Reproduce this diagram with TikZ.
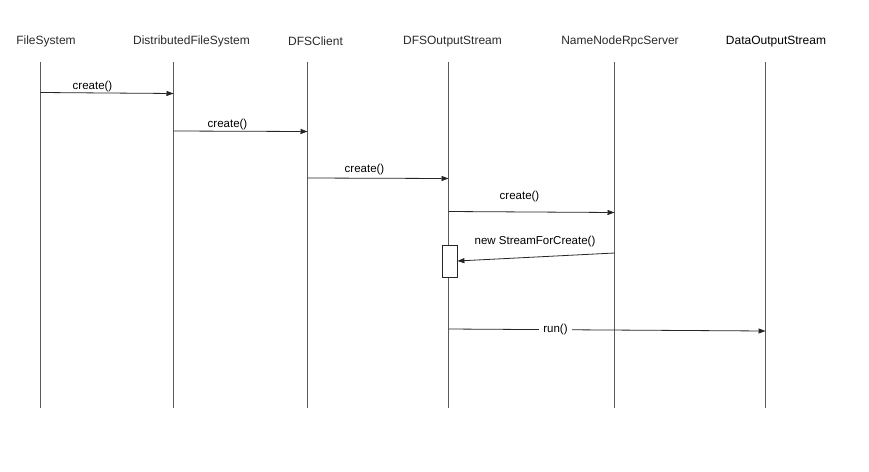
\documentclass[tikz,border=0pt]{standalone}
\usepackage{fontspec}
\setmainfont{Liberation Sans}
\usetikzlibrary{arrows.meta}
\definecolor{lifegray}{HTML}{5A5A5A}
\definecolor{headtext}{HTML}{2A2A2A}
\begin{document}
\begin{tikzpicture}[x=1pt,y=-1pt,
  header/.style={inner sep=0pt,font=\fontsize{12}{14}\selectfont,text=headtext},
  lifeline/.style={draw=lifegray,line width=1.2pt},
  msg/.style={draw=black!85,line width=0.8pt,-{Triangle[length=7pt,width=5pt]}},
  msglabel/.style={inner sep=0pt,font=\fontsize{11.5}{13}\selectfont,text=black},
  actbox/.style={draw=black!85,fill=white,line width=0.8pt,minimum width=15pt,minimum height=32pt,inner sep=0pt}]
  % page frame
  \path[fill=white] (0,0) rectangle (869,471);
  \useasboundingbox (0,0) rectangle (869,471);

  % participant names
  \node[header] (hFS)   at (46,41.5)  {FileSystem};
  \node[header] (hDFS)  at (191.5,41.5) {DistributedFileSystem};
  \node[header] (hCli)  at (315.5,41) {DFSClient};
  \node[header] (hOut)  at (452.5,41.5) {DFSOutputStream};
  \node[header] (hNN)   at (620,41.5) {NameNodeRpcServer};
  \node[header,text=black] (hData) at (776,41.5) {DataOutputStream};

  % lifeline ends
  \coordinate (fsT)   at (40.5,62);  \coordinate (fsB)   at (40.5,408);
  \coordinate (dfsT)  at (173.5,62); \coordinate (dfsB)  at (173.5,408);
  \coordinate (cliT)  at (307.5,62); \coordinate (cliB)  at (307.5,408);
  \coordinate (outT)  at (448.5,62); \coordinate (outB)  at (448.5,408);
  \coordinate (nnT)   at (614.5,62); \coordinate (nnB)   at (614.5,408);
  \coordinate (dataT) at (765.5,62); \coordinate (dataB) at (765.5,408);

  \foreach \a/\b in {fsT/fsB,dfsT/dfsB,cliT/cliB,outT/outB,nnT/nnB,dataT/dataB}
    \draw[lifeline] (\a) -- (\b);

  % message end points on the lifelines
  \coordinate (m1a) at (40.5,92.5);  \coordinate (m1b) at (173.5,93.5);
  \coordinate (m2a) at (173.5,131);  \coordinate (m2b) at (307.5,131.5);
  \coordinate (m3a) at (307.5,178);  \coordinate (m3b) at (448.5,178.5);
  \coordinate (m4a) at (448.5,211.5);\coordinate (m4b) at (614.5,212.5);
  \coordinate (m5a) at (614.5,253);
  \coordinate (m6a) at (448.5,329);  \coordinate (m6b) at (765.5,331);

  % activation on DFSOutputStream
  \node[actbox] (act) at (449.5,261) {};

  % messages
  \draw[msg] (m1a) -- (m1b);
  \node[msglabel] (l1) at (92.5,86.5) {create()};
  \draw[msg] (m2a) -- (m2b);
  \node[msglabel] (l2) at (227.5,124.5) {create()};
  \draw[msg] (m3a) -- (m3b);
  \node[msglabel] (l3) at (364.5,169.5) {create()};
  \draw[msg] (m4a) -- (m4b);
  \node[msglabel] (l4) at (519.5,196.5) {create()};
  \draw[msg] (m5a) -- (act.east);
  \node[msglabel] (l5) at (535,242) {new StreamForCreate()};
  \draw[msg] (m6a) -- (m6b);
  \node[msglabel,fill=white,inner xsep=4pt,inner ysep=2pt] (l6) at (555.5,330) {run()};
\end{tikzpicture}
\end{document}
